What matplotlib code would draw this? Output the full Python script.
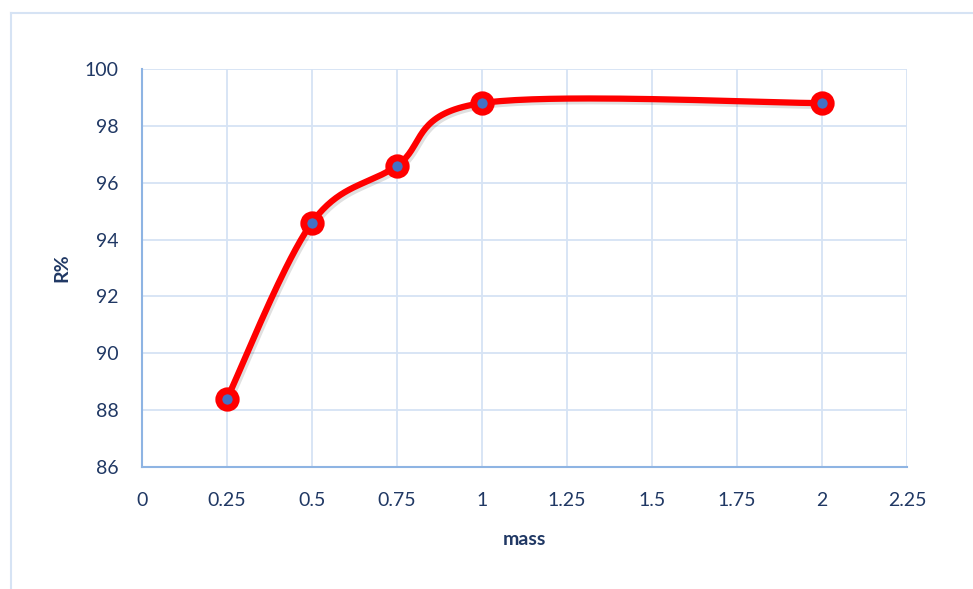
import numpy as np
import matplotlib.pyplot as plt
import matplotlib.patheffects as pe
from matplotlib.lines import Line2D

mass = [0.25, 0.5, 0.75, 1, 2]
removal = [88.4, 94.6, 96.6, 98.8, 98.8]
xticks = [0, 0.25, 0.5, 0.75, 1, 1.25, 1.5, 1.75, 2, 2.25]
xticklabels = ["0", "0.25", "0.5", "0.75", "1", "1.25", "1.5", "1.75", "2", "2.25"]
yticks = [86, 88, 90, 92, 94, 96, 98, 100]

txt = "#203864"
grid = "#D6E3F4"
axcol = "#8EB4E3"

plt.rcParams['font.family'] = ['Lato', 'DejaVu Sans']


def smooth(xs, ys, n=40):
    # excel-like smoothed line: cubic bezier, catmull-rom style control points
    p = np.column_stack([xs, ys]).astype(float)
    # scale to roughly display units so the curve shape matches
    sc = np.array([85 / 0.25, 56.9 / 2])
    q = p * sc
    outx, outy = [], []
    for i in range(len(q) - 1):
        p0 = q[i - 1] if i > 0 else q[i]
        p1 = q[i]
        p2 = q[i + 1]
        p3 = q[i + 2] if i + 2 < len(q) else q[i + 1]
        c1 = p1 + (p2 - p0) / 6
        c2 = p2 - (p3 - p1) / 6
        t = np.linspace(0, 1, n)[:, None]
        b = (1 - t) ** 3 * p1 + 3 * (1 - t) ** 2 * t * c1 + 3 * (1 - t) * t ** 2 * c2 + t ** 3 * p2
        b = b / sc
        outx.extend(b[:, 0])
        outy.extend(b[:, 1])
    return outx, outy


fig = plt.figure(figsize=(9.73, 5.89), dpi=100)
ax = fig.add_axes([142 / 973, 1 - 467 / 589, (907 - 142) / 973, (467 - 69) / 589])

sx, sy = smooth(mass, removal)
shadow = [pe.SimpleLineShadow(offset=(1.5, -2), shadow_color='black', alpha=0.12), pe.Normal()]
ax.plot(sx, sy, color='#FF0000', lw=4.5, solid_capstyle='round', path_effects=shadow, zorder=3)
ax.plot(mass, removal, 'o', color='#FF0000', markersize=12.5, markerfacecolor='#4472C4',
        markeredgecolor='#FF0000', markeredgewidth=5, zorder=4)

ax.set_xlim(0, 2.25)
ax.set_ylim(86, 100)
ax.set_xticks(xticks)
ax.set_xticklabels(xticklabels)
ax.set_yticks(yticks)
ax.grid(True, color=grid, lw=1.3)
ax.set_axisbelow(True)
for s in ['top', 'right']:
    ax.spines[s].set_visible(False)
for s in ['left', 'bottom']:
    ax.spines[s].set_color(axcol)
    ax.spines[s].set_linewidth(1.5)
ax.tick_params(length=0, labelsize=14, labelcolor=txt)
ax.tick_params(axis='x', pad=18)
ax.tick_params(axis='y', pad=17)
ax.set_xlabel("mass", fontsize=14, fontweight='bold', color=txt, labelpad=16)
ax.set_ylabel("R%", fontsize=14, fontweight='bold', color=txt, labelpad=10)

# outer chart border
fig.add_artist(Line2D([11 / 973, 11 / 973], [0, 1 - 13 / 589], color=grid, lw=1.5))
fig.add_artist(Line2D([11 / 973, 1], [1 - 13 / 589, 1 - 13 / 589], color=grid, lw=1.5))

fig.savefig("out.png", dpi=100)
